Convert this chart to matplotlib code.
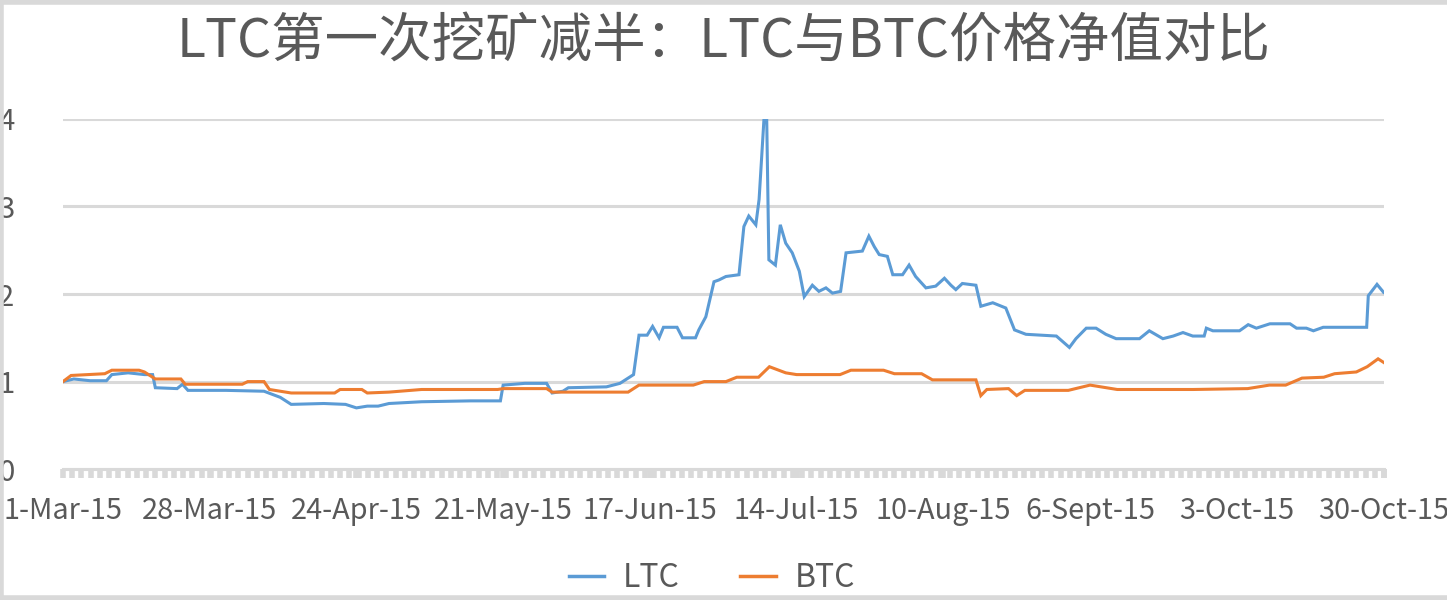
import numpy as np
import pandas as pd
import matplotlib
matplotlib.use("Agg")
import matplotlib.pyplot as plt
from matplotlib.lines import Line2D

plt.rcParams['font.family'] = ['Noto Sans CJK SC', 'DejaVu Sans']

# values: day offset from 1-Mar-15, net value
start = pd.Timestamp("2015-03-01")

ltc_day = [0, 2, 5, 8, 9, 12, 15, 16.5, 17, 21, 22, 23, 30, 37, 40, 42, 48, 52, 54,
           56, 58, 60, 66, 75, 80.5, 81, 85, 89, 90, 92, 93, 100, 102.5, 105, 106,
           107.5, 108.5, 109.7, 110.5, 113, 114, 116.4, 117, 118.3, 119.8, 120.7,
           122, 124.4, 125.3, 126.2, 127.5, 128.1, 129, 129.5, 129.9, 131.1, 132,
           133, 134.2, 135.5, 136.4, 137.9, 139.1, 140.4, 141.6, 143.1, 144.1, 147.1,
           148.3, 149.3, 150.2, 151.7, 152.7, 154.5, 155.7, 156.9, 158.8, 160.6,
           162.2, 163.4, 164.3, 165.5, 168, 168.9, 171.1, 173.5, 175.1, 177.2, 182.8,
           185.2, 186.4, 188.3, 190.1, 191.9, 193.8, 198.1, 199.9, 202.4, 204.3,
           206.1, 207.9, 210, 210.4, 211.6, 216.5, 218.1, 219.6, 222.1, 225.8, 227,
           228.8, 230.1, 231.9, 239.9, 240.2, 241.8, 243]
ltc_val = [1.00, 1.03, 1.01, 1.01, 1.08, 1.10, 1.08, 1.08, 0.93, 0.92, 0.97, 0.90, 0.90,
           0.89, 0.82, 0.74, 0.75, 0.74, 0.70, 0.72, 0.72, 0.75, 0.77, 0.78, 0.78,
           0.96, 0.98, 0.98, 0.87, 0.89, 0.93, 0.94, 0.98, 1.08, 1.53, 1.53, 1.63,
           1.50, 1.62, 1.62, 1.50, 1.50, 1.59, 1.74, 2.14, 2.16, 2.20, 2.22, 2.77,
           2.89, 2.79, 3.08, 4.00, 4.00, 2.39, 2.33, 2.79, 2.58, 2.47, 2.26, 1.97,
           2.10, 2.03, 2.07, 2.01, 2.03, 2.47, 2.49, 2.66, 2.54, 2.45, 2.43, 2.22,
           2.22, 2.33, 2.20, 2.07, 2.09, 2.18, 2.10, 2.05, 2.12, 2.10, 1.86, 1.90,
           1.84, 1.59, 1.54, 1.52, 1.39, 1.49, 1.61, 1.61, 1.54, 1.49, 1.49, 1.58,
           1.49, 1.52, 1.56, 1.52, 1.52, 1.61, 1.58, 1.58, 1.65, 1.61, 1.66, 1.66,
           1.61, 1.61, 1.58, 1.62, 1.62, 1.98, 2.11, 2.02]

btc_day = [0, 1.5, 7.7, 9, 14, 15, 17, 21.7, 22.5, 33, 34, 37, 38, 42, 50, 51, 55, 56,
           60, 66, 80, 81, 89, 90, 104, 106, 116, 118, 122, 124, 128, 130, 133, 135,
           143, 145, 151, 153, 158, 160, 168, 168.9, 170, 174, 175.5, 177, 185, 189,
           194, 208, 218, 222, 225, 228, 232, 234, 238, 240, 242, 243]
btc_val = [1.00, 1.07, 1.09, 1.13, 1.13, 1.11, 1.03, 1.03, 0.97, 0.97, 1.00, 1.00, 0.91,
           0.87, 0.87, 0.91, 0.91, 0.87, 0.88, 0.91, 0.91, 0.92, 0.92, 0.88, 0.88,
           0.96, 0.96, 1.00, 1.00, 1.05, 1.05, 1.17, 1.10, 1.08, 1.08, 1.13, 1.13,
           1.09, 1.09, 1.02, 1.02, 0.84, 0.91, 0.92, 0.84, 0.90, 0.90, 0.96, 0.91,
           0.91, 0.92, 0.96, 0.96, 1.04, 1.05, 1.09, 1.11, 1.17, 1.26, 1.22]

tick_day = [0, 27, 54, 81, 108, 135, 162, 189, 216, 243]
tick_labels = ['1-Mar-15', '28-Mar-15', '24-Apr-15', '21-May-15', '17-Jun-15',
               '14-Jul-15', '10-Aug-15', '6-Sept-15', '3-Oct-15', '30-Oct-15']

title = 'LTC第一次挖矿减半：LTC与BTC价格净值对比'
blue = '#5B9BD5'
orange = '#ED7D31'
grey_txt = '#595959'
grey_line = '#D9D9D9'


def to_dates(days):
    return start + pd.to_timedelta(np.asarray(days, dtype=float), unit='D')


fig = plt.figure(figsize=(14.47, 6.0), dpi=100)
ax = fig.add_axes([0.0435, 0.218, 0.913, 0.584])

ax.plot(to_dates(ltc_day), ltc_val, color=blue, lw=2.2, solid_joinstyle='miter', zorder=3)
ax.plot(to_dates(btc_day), btc_val, color=orange, lw=2.2, solid_joinstyle='miter', zorder=3)

ax.set_ylim(0, 4)
ax.set_yticks([0, 1, 2, 3, 4])
ax.set_xlim(to_dates([0])[0], to_dates([243])[0])
ax.set_xticks(to_dates(tick_day))
ax.set_xticklabels(tick_labels)
ax.set_xticks(to_dates(np.arange(0, 244, 1.7)), minor=True)

ax.grid(axis='y', color=grey_line, lw=2.2, zorder=0)
for s in ['top', 'right', 'left']:
    ax.spines[s].set_visible(False)
ax.spines['bottom'].set_color(grey_line)
ax.spines['bottom'].set_linewidth(2.2)

ax.tick_params(axis='y', length=0, pad=35, labelsize=21, labelcolor=grey_txt)
ax.tick_params(axis='x', which='both', direction='out', color=grey_line,
               length=6.5, width=4.0, labelsize=20.8, labelcolor=grey_txt, pad=13)

fig.text(0.5, 0.93, title, ha='center', va='center', fontsize=38.5, color=grey_txt)

handles = [Line2D([], [], color=blue, lw=2.5), Line2D([], [], color=orange, lw=2.5)]
fig.legend(handles, ['LTC', 'BTC'], loc='center', bbox_to_anchor=(0.492, 0.037),
           ncol=2, frameon=False, fontsize=23, labelcolor=grey_txt,
           handlelength=1.1, columnspacing=1.9, handletextpad=0.6)

# chart area border (top, left, bottom visible in the crop)
for xs, ys in [([0, 1], [0.997, 0.997]), ([0.001, 0.001], [0, 1]), ([0, 1], [0.004, 0.004])]:
    fig.add_artist(Line2D(xs, ys, transform=fig.transFigure, color=grey_line, lw=4))

fig.savefig('out.png', dpi=100)
